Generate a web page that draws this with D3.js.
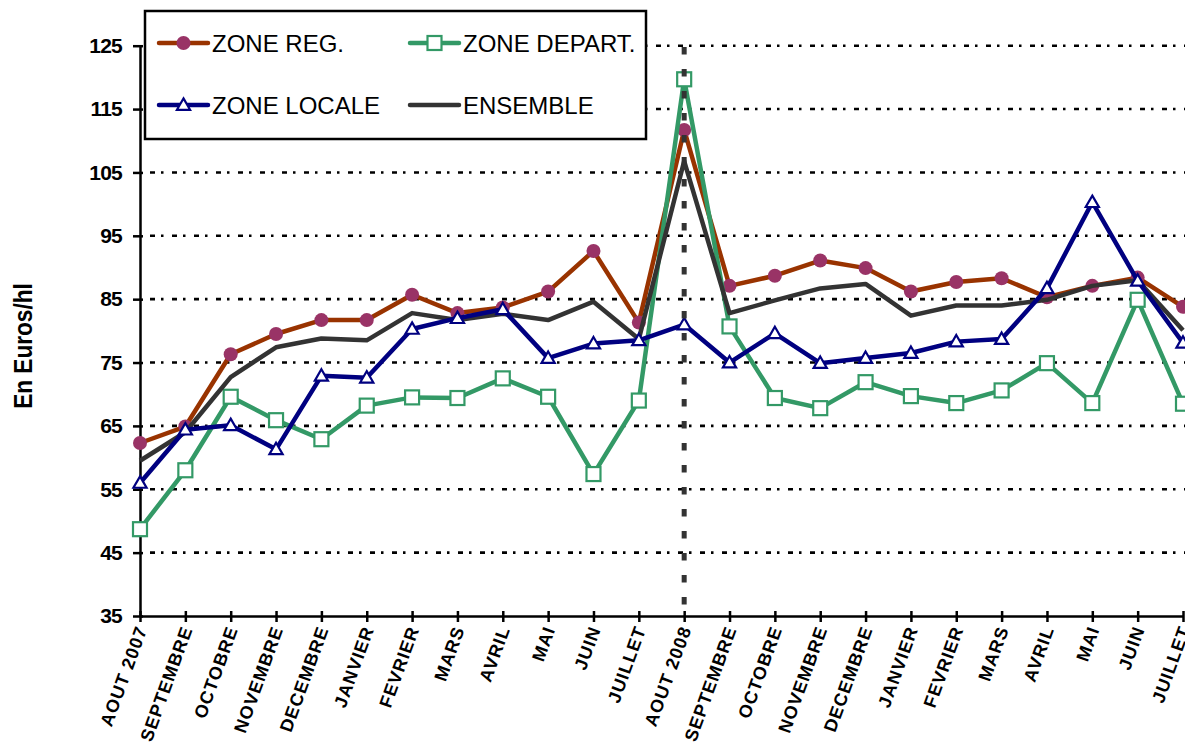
<!DOCTYPE html>
<meta charset="utf-8">
<style>
body {
  margin: 0;
  background: #fff;
}
svg {
  display: block;
  font-family: Arial, "Liberation Sans", sans-serif;
}
</style>
<script src="https://cdnjs.cloudflare.com/ajax/libs/d3/7.8.5/d3.min.js"></script>
<body></body>
<script>

var months = ['AOUT 2007', 'SEPTEMBRE', 'OCTOBRE', 'NOVEMBRE', 'DECEMBRE', 'JANVIER', 'FEVRIER', 'MARS', 'AVRIL', 'MAI', 'JUIN', 'JUILLET',
  'AOUT 2008', 'SEPTEMBRE ', 'OCTOBRE ', 'NOVEMBRE ', 'DECEMBRE ', 'JANVIER ', 'FEVRIER ', 'MARS ', 'AVRIL ', 'MAI ', 'JUIN ', 'JUILLET '];

var zoneReg = [62.3, 64.9, 76.3, 79.5, 81.7, 81.7, 85.7, 82.8, 83.7, 86.2, 92.6, 81.3,
  111.7, 87.1, 88.7, 91.1, 89.9, 86.2, 87.7, 88.3, 85.3, 87.1, 88.4, 83.8];
var zoneDepart = [48.7, 58.0, 69.6, 65.9, 62.9, 68.2, 69.5, 69.4, 72.5, 69.6, 57.4, 69.0,
  119.7, 80.7, 69.4, 67.8, 71.9, 69.7, 68.6, 70.6, 74.9, 68.6, 84.9, 68.5];
var zoneLocale = [56.0, 64.4, 65.1, 61.3, 72.9, 72.6, 80.3, 82.0, 83.4, 75.7, 78.0, 78.5,
  81.0, 75.0, 79.6, 74.9, 75.7, 76.5, 78.3, 78.7, 86.7, 100.3, 87.9, 78.1];
var ensemble = [59.5, 64.0, 72.7, 77.4, 78.8, 78.5, 82.8, 81.7, 82.7, 81.7, 84.6, 78.7,
  106.8, 82.8, 84.8, 86.7, 87.4, 82.4, 84.0, 84.0, 84.9, 87.1, 88.0, 80.1];

var yTicks = [35, 45, 55, 65, 75, 85, 95, 105, 115, 125];
var markerMonth = 'AOUT 2008';

var width = 1185;
var height = 749;

var x = d3.scalePoint().domain(months).range([140, 1183]);
var y = d3.scaleLinear().domain([35, 125]).range([616, 45.7]);

var svg = d3.select('body').append('svg')
  .attr('width', width)
  .attr('height', height);

// grid lines (dash-dot)
svg.append('g')
  .selectAll('line')
  .data(yTicks.slice(1))
  .join('line')
  .attr('x1', 150)
  .attr('x2', width)
  .attr('y1', d => y(d))
  .attr('y2', d => y(d))
  .attr('stroke', '#000')
  .attr('stroke-width', 2.6)
  .attr('stroke-dasharray', '5,6,2.5,8.5');

// y axis
var yAxis = svg.append('g')
  .attr('transform', 'translate(140,0)')
  .call(d3.axisLeft(y).tickValues(yTicks).tickSize(0).tickPadding(18));
yAxis.select('.domain').attr('stroke', '#000').attr('stroke-width', 2.5);
yAxis.selectAll('.tick line').attr('x1', -7).attr('x2', 3).attr('stroke', '#000').attr('stroke-width', 2.5);
yAxis.selectAll('.tick text')
  .attr('font-family', 'Arial, "Liberation Sans", sans-serif')
  .attr('font-size', 21)
  .attr('font-weight', 'bold')
  .attr('letter-spacing', -0.8)
  .attr('fill', '#000');

// x axis
var xAxis = svg.append('g')
  .attr('transform', 'translate(0,616)')
  .call(d3.axisBottom(x).tickSize(0));
xAxis.select('.domain').attr('stroke', '#000').attr('stroke-width', 2.5);
xAxis.selectAll('.tick line').attr('y1', -5).attr('y2', 6).attr('stroke', '#000').attr('stroke-width', 2.5);
xAxis.selectAll('.tick text')
  .text(d => d.trim())
  .attr('font-family', 'Arial, "Liberation Sans", sans-serif')
  .attr('font-size', 18)
  .attr('font-weight', 'bold')
  .attr('letter-spacing', 1)
  .attr('fill', '#000')
  .attr('text-anchor', 'end')
  .attr('y', 0)
  .attr('dy', 0)
  .attr('transform', 'translate(7,13) rotate(-70)');

// y axis title
svg.append('text')
  .attr('transform', 'translate(32,346) rotate(-90) scale(0.87,1)')
  .attr('text-anchor', 'middle')
  .attr('font-size', 26)
  .attr('font-weight', 'bold')
  .text('En Euros/hl');

var line = d3.line()
  .x((d, i) => x(months[i]))
  .y(d => y(d));

var series = [
  { name: 'ZONE REG.', values: zoneReg, color: '#993300', marker: 'circle' },
  { name: 'ZONE DEPART.', values: zoneDepart, color: '#339966', marker: 'square' },
  { name: 'ENSEMBLE', values: ensemble, color: '#333333', marker: 'none' },
  { name: 'ZONE LOCALE', values: zoneLocale, color: '#000080', marker: 'triangle' }
];

function drawMarker(g, type, cx, cy) {
  if (type === 'circle') {
    g.append('circle')
      .attr('cx', cx).attr('cy', cy).attr('r', 7)
      .attr('fill', '#993366');
  } else if (type === 'square') {
    g.append('rect')
      .attr('x', cx - 7).attr('y', cy - 7)
      .attr('width', 14).attr('height', 14)
      .attr('fill', '#fff')
      .attr('stroke', '#339966')
      .attr('stroke-width', 2.2);
  } else if (type === 'triangle') {
    g.append('path')
      .attr('d', d3.symbol(d3.symbolTriangle, 75)())
      .attr('transform', 'translate(' + cx + ',' + (cy + 1) + ')')
      .attr('fill', '#fff')
      .attr('stroke', '#000080')
      .attr('stroke-width', 2.2);
  }
}

series.forEach(s => {
  var g = svg.append('g');
  g.append('path')
    .datum(s.values)
    .attr('d', line)
    .attr('fill', 'none')
    .attr('stroke', s.color)
    .attr('stroke-width', 4.5)
    .attr('stroke-linejoin', 'round');
  s.values.forEach((v, i) => drawMarker(g, s.marker, x(months[i]), y(v)));
});

// vertical marker line at AOUT 2008
svg.append('line')
  .attr('x1', x(markerMonth))
  .attr('x2', x(markerMonth))
  .attr('y1', 47)
  .attr('y2', 614)
  .attr('stroke', '#333')
  .attr('stroke-width', 5)
  .attr('stroke-dasharray', '7.5,14.5');

// legend
var legend = svg.append('g');
legend.append('rect')
  .attr('x', 145).attr('y', 11)
  .attr('width', 501).attr('height', 128)
  .attr('fill', '#fff')
  .attr('stroke', '#000')
  .attr('stroke-width', 2.5);

var legendItems = [
  { name: 'ZONE REG.', color: '#993300', marker: 'circle', lx: 159, ly: 43 },
  { name: 'ZONE DEPART.', color: '#339966', marker: 'square', lx: 410, ly: 43 },
  { name: 'ZONE LOCALE', color: '#000080', marker: 'triangle', lx: 159, ly: 105 },
  { name: 'ENSEMBLE', color: '#333333', marker: 'none', lx: 410, ly: 105 }
];

legendItems.forEach(d => {
  legend.append('line')
    .attr('x1', d.lx).attr('x2', d.lx + 49)
    .attr('y1', d.ly).attr('y2', d.ly)
    .attr('stroke', d.color)
    .attr('stroke-width', 4.5)
    .attr('stroke-linecap', 'round');
  drawMarker(legend, d.marker, d.lx + 24.5, d.ly);
  legend.append('text')
    .attr('x', d.lx + 53)
    .attr('y', d.ly + 8.5)
    .attr('font-size', 24)
    .attr('fill', '#000')
    .text(d.name);
});

</script>
